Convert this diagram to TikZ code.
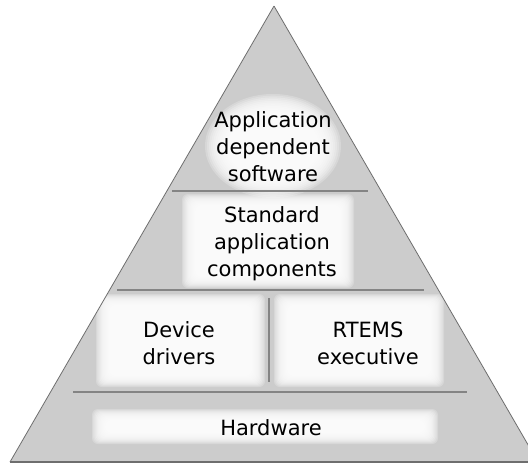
\documentclass[tikz,border=0pt]{standalone}
\usepackage{fontspec}
\setmainfont{DejaVu Sans}
\usepackage{xcolor}
\definecolor{pyrfill}{RGB}{204,204,204}
\definecolor{pyrline}{RGB}{110,110,110}

% soft white patch behind a label: stacked translucent boxes
\newcommand{\glowbox}[4]{%
 \foreach \k in {0,...,11}
  \fill[white,fill opacity=0.22,rounded corners=6pt]
   ({#1+1.2*\k},{#2+1.0*\k}) rectangle ({#3-1.2*\k},{#4-1.0*\k});}

\begin{document}
\begin{tikzpicture}[x=1pt,y=-1pt,
 lbl/.style={align=center,font=\fontsize{21}{27}\selectfont,inner sep=0pt},
 sep/.style={draw=pyrline!85,line width=1.2pt}]
 \useasboundingbox (0,0) rectangle (528,464);
 \fill[pyrfill] (274,6) -- (10,462) -- (538,462) -- cycle;

 % glows
 \foreach \k in {0,...,11}
  \fill[white,fill opacity=0.22] (273,146) ellipse ({68-2*\k} and {52-1.7*\k});
 \glowbox{182}{194}{354}{288}
 \glowbox{96}{294}{265}{387}
 \glowbox{274}{294}{444}{387}
 \glowbox{92}{409}{438}{444}

 % layer separators
 \draw[sep] (172,191) -- (368,191);
 \draw[sep] (117,290) -- (424,290);
 \draw[sep] (73,392) -- (467,392);
 \draw[sep] (269,298) -- (269,382);

 \draw[pyrline,line width=0.8pt] (274,6) -- (10,462);
 \draw[pyrline,line width=0.8pt] (274,6) -- (538,462);
 \draw[pyrline,line width=1.4pt] (10,462) -- (538,462);

 \node[lbl] (app) at (273,147) {Application\\dependent\\software};
 \node[lbl] (std) at (272,244) {Standard\\application\\components};
 \node[lbl] (drv) at (179,343) {Device\\drivers};
 \node[lbl] (exe) at (368,343) {RTEMS\\executive};
 \node[lbl] (hw) at (271,428) {Hardware};
\end{tikzpicture}
\end{document}
